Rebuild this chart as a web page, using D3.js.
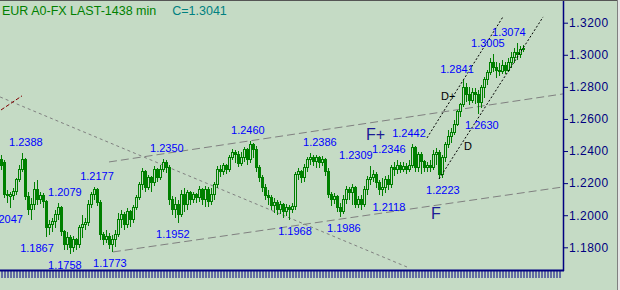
<!DOCTYPE html>
<html>
<head>
<meta charset="utf-8">
<script src="https://cdn.jsdelivr.net/npm/d3@7"></script>
<style>
  body { margin: 0; background: #c5dbc5; }
  svg { display: block; }
  text { font-family: "Liberation Sans", Arial, sans-serif; }
</style>
</head>
<body>
<svg width="620" height="290"></svg>
<script>
// price data, one row per bar: open, high, low, close
const ohlc = [
[1.2345,1.2376,1.2282,1.2313],[1.2326,1.2345,1.2108,1.2127],[1.2127,1.2158,1.2077,1.2120],[1.2114,1.2145,1.2047,1.2127],
[1.2120,1.2170,1.2095,1.2145],[1.2145,1.2232,1.2127,1.2220],[1.2220,1.2313,1.2207,1.2282],[1.2282,1.2388,1.2270,1.2345],
[1.2345,1.2357,1.2095,1.2114],[1.2114,1.2145,1.2002,1.2033],[1.2033,1.2108,1.1971,1.2064],[1.2064,1.2207,1.2033,1.2158],
[1.2158,1.2220,1.2064,1.2095],[1.2095,1.2145,1.2070,1.2120],[1.2120,1.2139,1.2045,1.2083],[1.2083,1.2095,1.1867,1.1921],
[1.1921,1.1971,1.1877,1.1940],[1.1940,1.1983,1.1896,1.1958],[1.1958,1.2033,1.1921,1.2002],[1.2002,1.2079,1.1971,1.2045],
[1.2045,1.2058,1.1871,1.1896],[1.1896,1.1909,1.1784,1.1815],[1.1815,1.1896,1.1784,1.1859],[1.1859,1.1877,1.1758,1.1796],
[1.1796,1.1871,1.1771,1.1846],[1.1846,1.1859,1.1784,1.1815],[1.1815,1.1940,1.1796,1.1921],[1.1921,1.2002,1.1859,1.1940],
[1.1940,1.1983,1.1909,1.1952],[1.1952,1.2095,1.1933,1.2064],[1.2064,1.2145,1.2045,1.2127],[1.2127,1.2177,1.2095,1.2158],
[1.2158,1.2170,1.2058,1.2077],[1.2077,1.2095,1.1846,1.1877],[1.1877,1.1896,1.1815,1.1846],[1.1846,1.1909,1.1827,1.1865],
[1.1865,1.1890,1.1790,1.1815],[1.1815,1.1877,1.1773,1.1846],[1.1846,1.1909,1.1803,1.1877],[1.1877,1.2014,1.1865,1.1971],
[1.1971,1.2033,1.1921,1.2002],[1.2002,1.2021,1.1909,1.1940],[1.1940,1.2045,1.1921,1.2021],[1.2021,1.2033,1.1927,1.1971],
[1.1971,1.2064,1.1952,1.2045],[1.2045,1.2127,1.2033,1.2108],[1.2108,1.2207,1.2095,1.2189],[1.2189,1.2295,1.2158,1.2270],
[1.2270,1.2282,1.2145,1.2170],[1.2170,1.2251,1.2158,1.2232],[1.2232,1.2245,1.2145,1.2201],[1.2201,1.2307,1.2183,1.2282],
[1.2282,1.2295,1.2207,1.2232],[1.2232,1.2313,1.2220,1.2282],[1.2282,1.2350,1.2270,1.2326],[1.2326,1.2345,1.2264,1.2295],
[1.2295,1.2313,1.2064,1.2095],[1.2095,1.2120,1.2002,1.2033],[1.2033,1.2114,1.1983,1.2064],[1.2064,1.2095,1.1952,1.2002],
[1.2002,1.2158,1.1990,1.2127],[1.2127,1.2170,1.2021,1.2064],[1.2064,1.2158,1.2033,1.2139],[1.2139,1.2152,1.2064,1.2095],
[1.2095,1.2145,1.2077,1.2127],[1.2127,1.2139,1.2077,1.2108],[1.2108,1.2183,1.2083,1.2158],[1.2158,1.2170,1.2064,1.2095],
[1.2095,1.2183,1.2052,1.2158],[1.2158,1.2177,1.2052,1.2083],[1.2083,1.2170,1.2064,1.2127],[1.2127,1.2207,1.2095,1.2189],
[1.2189,1.2307,1.2170,1.2282],[1.2282,1.2313,1.2239,1.2270],[1.2270,1.2326,1.2251,1.2307],[1.2307,1.2320,1.2257,1.2282],
[1.2282,1.2376,1.2270,1.2357],[1.2357,1.2413,1.2345,1.2394],[1.2394,1.2407,1.2326,1.2376],[1.2376,1.2401,1.2301,1.2320],
[1.2320,1.2394,1.2307,1.2357],[1.2357,1.2426,1.2332,1.2407],[1.2407,1.2419,1.2313,1.2345],[1.2345,1.2460,1.2326,1.2438],
[1.2438,1.2451,1.2357,1.2407],[1.2407,1.2432,1.2270,1.2295],[1.2295,1.2313,1.2207,1.2232],[1.2232,1.2251,1.2145,1.2170],
[1.2170,1.2195,1.2095,1.2120],[1.2120,1.2158,1.2064,1.2108],[1.2108,1.2127,1.2033,1.2058],[1.2058,1.2108,1.2014,1.2077],
[1.2077,1.2095,1.2002,1.2033],[1.2033,1.2089,1.2008,1.2064],[1.2064,1.2077,1.1983,1.2021],[1.2021,1.2070,1.1996,1.2045],
[1.2045,1.2064,1.1968,1.2033],[1.2033,1.2077,1.2014,1.2052],[1.2052,1.2270,1.2033,1.2251],[1.2251,1.2295,1.2220,1.2270],
[1.2270,1.2282,1.2201,1.2232],[1.2232,1.2320,1.2207,1.2295],[1.2295,1.2363,1.2270,1.2345],[1.2345,1.2386,1.2313,1.2357],
[1.2357,1.2376,1.2307,1.2332],[1.2332,1.2376,1.2295,1.2357],[1.2357,1.2370,1.2295,1.2326],[1.2326,1.2370,1.2307,1.2345],
[1.2345,1.2357,1.2245,1.2270],[1.2270,1.2295,1.2108,1.2127],[1.2127,1.2145,1.2058,1.2095],[1.2095,1.2139,1.2070,1.2114],
[1.2114,1.2127,1.2021,1.2045],[1.2045,1.2077,1.1986,1.2021],[1.2021,1.2127,1.2008,1.2095],[1.2095,1.2183,1.2070,1.2158],
[1.2158,1.2177,1.2095,1.2139],[1.2139,1.2195,1.2064,1.2170],[1.2170,1.2183,1.2045,1.2064],[1.2064,1.2120,1.2045,1.2095],
[1.2095,1.2127,1.2033,1.2064],[1.2064,1.2183,1.2052,1.2158],[1.2158,1.2245,1.2127,1.2220],[1.2220,1.2309,1.2189,1.2232],
[1.2232,1.2282,1.2207,1.2251],[1.2251,1.2270,1.2170,1.2207],[1.2207,1.2220,1.2127,1.2158],[1.2158,1.2232,1.2118,1.2170],
[1.2170,1.2245,1.2139,1.2220],[1.2220,1.2251,1.2158,1.2189],[1.2189,1.2313,1.2170,1.2295],[1.2295,1.2332,1.2245,1.2282],
[1.2282,1.2346,1.2257,1.2313],[1.2313,1.2332,1.2264,1.2282],[1.2282,1.2332,1.2270,1.2301],[1.2301,1.2326,1.2257,1.2282],
[1.2282,1.2345,1.2270,1.2313],[1.2313,1.2442,1.2295,1.2419],[1.2419,1.2432,1.2270,1.2295],[1.2295,1.2394,1.2270,1.2376],
[1.2376,1.2394,1.2257,1.2332],[1.2332,1.2345,1.2270,1.2295],[1.2295,1.2332,1.2270,1.2313],[1.2313,1.2345,1.2270,1.2295],
[1.2295,1.2407,1.2282,1.2376],[1.2376,1.2419,1.2313,1.2394],[1.2394,1.2407,1.2223,1.2251],[1.2251,1.2376,1.2232,1.2357],
[1.2357,1.2457,1.2332,1.2438],[1.2438,1.2531,1.2419,1.2488],[1.2488,1.2544,1.2451,1.2513],[1.2513,1.2594,1.2500,1.2563],
[1.2563,1.2656,1.2556,1.2644],[1.2644,1.2700,1.2612,1.2687],[1.2687,1.2841,1.2675,1.2793],[1.2793,1.2824,1.2706,1.2750],
[1.2750,1.2799,1.2687,1.2718],[1.2718,1.2793,1.2700,1.2768],[1.2768,1.2793,1.2694,1.2750],[1.2750,1.2781,1.2630,1.2700],
[1.2700,1.2812,1.2669,1.2793],[1.2793,1.2862,1.2731,1.2843],[1.2843,1.2905,1.2812,1.2887],[1.2887,1.2980,1.2874,1.2955],
[1.2955,1.3005,1.2893,1.2918],[1.2918,1.2955,1.2855,1.2905],[1.2905,1.2949,1.2868,1.2893],[1.2893,1.2968,1.2880,1.2936],
[1.2936,1.2955,1.2880,1.2905],[1.2905,1.2980,1.2893,1.2955],[1.2955,1.3017,1.2918,1.2980],[1.2980,1.3042,1.2949,1.3017],
[1.3017,1.3074,1.2968,1.2999],[1.2999,1.3055,1.2980,1.3030],[1.3030,1.3061,1.3017,1.3041]
];

const yTicks = [1.18, 1.20, 1.22, 1.24, 1.26, 1.28, 1.30, 1.32];
const slots = 187;   // bar slots on the time axis (ticks run past the last bar)

// swing highs / lows written on the chart: text, bar index, "h" above or "l" below
const swings = [
  ["1.2388", 8.3, "h"], ["1.2079", 21.3, "h"], ["1.2177", 32, "h"], ["1.2350", 55.3, "h"],
  ["1.2460", 82.3, "h"], ["1.2386", 106.3, "h"], ["1.2309", 118.3, "h"], ["1.2346", 129.3, "h"],
  ["1.2442", 136, "h"], ["1.2841", 152, "h"], ["1.3005", 162.3, "h"], ["1.3074", 169.3, "h"],
  ["1.2047", 1.7, "l"], ["1.1867", 12, "l"], ["1.1758", 21.3, "l"], ["1.1773", 36.3, "l"],
  ["1.1952", 57.3, "l"], ["1.1968", 98, "l"], ["1.1986", 114.3, "l"], ["1.2118", 129.3, "l"],
  ["1.2223", 147.3, "l"], ["1.2630", 160.3, "l"]
];

// drawn trend lines: [index, price] -> [index, price]
const fanLine  = [[-0.3, 1.2737], [136, 1.1672]];
const redLine  = [[0, 1.2656], [7, 1.2744]];
const fPlus    = [[36, 1.2332], [187.3, 1.2756]];
const fLine    = [[37.3, 1.1771], [187.3, 1.2176]];
const dPlus    = [[142, 1.2482], [167.3, 1.3236]];
const dLine    = [[146, 1.2226], [180.7, 1.3236]];

// line tags: text, index, price
const tags = [["F+", 121.7, 1.2469], ["F", 143.3, 1.1978], ["D+", 146.7, 1.2718], ["D", 154.3, 1.2405]];

const title = "EUR A0-FX LAST-1438 min";
const lastClose = "C=1.3041";

var svg = d3.select("svg");
var plotW = 563, plotH = 270;

var x = d3.scaleLinear().domain([0, ohlc.length - 1]).range([1, 1 + 3 * (ohlc.length - 1)]);
var y = d3.scaleLinear().domain([1.18, 1.32]).range([247.3, 22.7]);

svg.append("rect").attr("width", 620).attr("height", 290).attr("fill", "#c5dbc5");

svg.append("defs").append("clipPath").attr("id", "plot")
  .append("rect").attr("width", plotW).attr("height", plotH);

var plot = svg.append("g").attr("clip-path", "url(#plot)");

function drawLine(pts, color, dash) {
  plot.append("line")
    .attr("x1", x(pts[0][0])).attr("y1", y(pts[0][1]))
    .attr("x2", x(pts[1][0])).attr("y2", y(pts[1][1]))
    .attr("stroke", color).attr("stroke-width", 1)
    .attr("stroke-dasharray", dash);
}

drawLine(fanLine, "#808080", "3,3");
drawLine(fPlus, "#808080", "8,4");
drawLine(fLine, "#808080", "8,4");
drawLine(redLine, "#800000", "4,2");

// candles
var bars = plot.append("g").attr("shape-rendering", "crispEdges");
bars.selectAll(".wick").data(ohlc).enter().append("line")
  .attr("x1", (d, i) => Math.round(x(i)) + 0.5)
  .attr("x2", (d, i) => Math.round(x(i)) + 0.5)
  .attr("y1", d => y(d[1]))
  .attr("y2", d => y(d[2]))
  .attr("stroke", "#008000");
bars.selectAll(".body").data(ohlc).enter().append("rect")
  .attr("x", (d, i) => Math.round(x(i)) - 0.5)
  .attr("y", d => y(Math.max(d[0], d[3])))
  .attr("width", 2)
  .attr("height", d => Math.max(1, Math.abs(y(d[0]) - y(d[3]))))
  .attr("fill", d => d[3] < d[0] ? "#008000" : "#c5dbc5")
  .attr("stroke", "#008000");

drawLine(dPlus, "#000", "2,2");
drawLine(dLine, "#000", "2,2");

// swing labels
svg.append("g").selectAll("text").data(swings).enter().append("text")
  .attr("x", d => x(d[1]))
  .attr("y", d => d[2] == "h" ? y(+d[0]) - 7 : y(+d[0]) + 15)
  .attr("text-anchor", "middle")
  .attr("font-size", 11)
  .attr("fill", "#0000ff")
  .text(d => d[0]);

svg.append("g").selectAll("text").data(tags).enter().append("text")
  .attr("x", d => x(d[1]))
  .attr("y", d => y(d[2]))
  .attr("font-size", d => d[0][0] == "F" ? 16 : 11)
  .attr("fill", d => d[0][0] == "F" ? "#1c1c96" : "#000")
  .text(d => d[0]);

// axes
var yAxis = d3.axisRight(y).tickValues(yTicks).tickSize(5).tickPadding(1)
  .tickFormat(d3.format(".4f"));
var gy = svg.append("g").attr("transform", "translate(" + plotW + ",0)").call(yAxis);
gy.select(".domain").remove();
gy.selectAll("line").attr("stroke", "#000080");
gy.selectAll("text").attr("fill", "#000080").attr("font-size", 12)
  .attr("letter-spacing", 0.5).attr("font-family", "Liberation Sans, Arial, sans-serif");

var xt = d3.scaleLinear().domain([0, slots - 1]).range([1, 1 + 3 * (slots - 1)]);
var xAxis = d3.axisBottom(xt).tickValues(d3.range(slots)).tickSize(8).tickFormat("");
var gx = svg.append("g").attr("transform", "translate(0.5," + plotH + ")").call(xAxis);
gx.select(".domain").remove();
gx.selectAll("line").attr("stroke", "#000080");

svg.append("line").attr("x1", 0).attr("x2", plotW + 1).attr("y1", plotH + 0.5).attr("y2", plotH + 0.5)
  .attr("stroke", "#000080").attr("stroke-width", 2);
svg.append("line").attr("x1", plotW + 0.5).attr("x2", plotW + 0.5).attr("y1", 0).attr("y2", plotH + 1)
  .attr("stroke", "#000080").attr("stroke-width", 1.5);

// frame
svg.append("line").attr("x1", 0).attr("x2", 618).attr("y1", 0.5).attr("y2", 0.5).attr("stroke", "#555");
svg.append("rect").attr("x", 617).attr("y", 0).attr("width", 3).attr("height", 290).attr("fill", "#e6e6e6");
svg.append("line").attr("x1", 617.5).attr("x2", 617.5).attr("y1", 0).attr("y2", 290).attr("stroke", "#808080");

// title
var t = svg.append("text").attr("x", 2).attr("y", 15).attr("font-size", 12.5);
t.append("tspan").attr("fill", "#008000").text(title);
t.append("tspan").attr("fill", "#008080").attr("dx", 16).text(lastClose);
</script>
</body>
</html>
